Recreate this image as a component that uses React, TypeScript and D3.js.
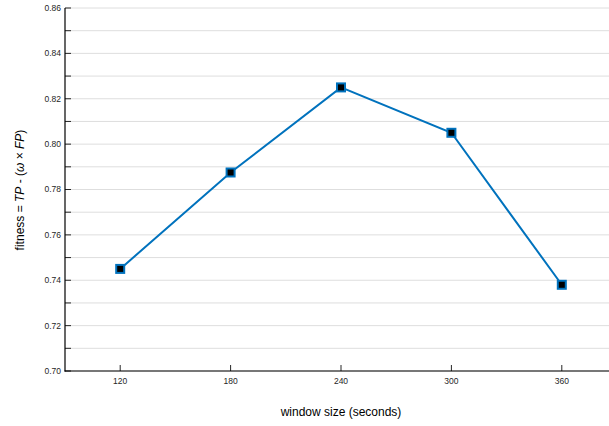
import React from "react";
import * as d3 from "d3";

const windowSizes = [120, 180, 240, 300, 360];
const fitness = [0.745, 0.7875, 0.825, 0.805, 0.738];
const xTicks = [120, 180, 240, 300, 360];
const yTicks = [0.7, 0.72, 0.74, 0.76, 0.78, 0.8, 0.82, 0.84, 0.86];
const yMinor = d3.range(0.7, 0.8601, 0.01);

export default function App() {
  const W = 609, H = 426;
  const x = d3.scaleLinear().domain([90, 390]).range([65, 617]);
  const y = d3.scaleLinear().domain([0.7, 0.86]).range([371, 8]);
  const line = d3.line<number>().x((_, i) => x(windowSizes[i])).y((d) => y(d));
  const font = "Helvetica, Arial, 'Liberation Sans', sans-serif";
  return (
    <svg width={W} height={H} style={{ position: "absolute", left: 0, top: 0, fontFamily: font }}>
      <rect width={W} height={H} fill="#fff" />
      {yMinor.map((v, i) => (
        <line key={"g" + i} x1={65} x2={W} y1={y(v)} y2={y(v)} stroke="#dedede" strokeWidth={1} />
      ))}
      {yMinor.map((v, i) => (
        <line key={"t" + i} x1={65} x2={71} y1={y(v)} y2={y(v)} stroke="#262626" strokeWidth={1} />
      ))}
      {yTicks.map((v) => (
        <text key={"yl" + v} x={61} y={y(v)} dy="0.35em" textAnchor="end" fontSize={8.5} fill="#262626">
          {v.toFixed(2)}
        </text>
      ))}
      {xTicks.map((v) => (
        <g key={"x" + v}>
          <line x1={x(v)} x2={x(v)} y1={371} y2={365} stroke="#262626" strokeWidth={1} />
          <text x={x(v)} y={384} textAnchor="middle" fontSize={8.5} fill="#262626">{v}</text>
        </g>
      ))}
      <line x1={65} x2={65} y1={8} y2={371.5} stroke="#000" strokeWidth={1.2} />
      <line x1={64.5} x2={W} y1={371} y2={371} stroke="#000" strokeWidth={1.2} />
      <path d={line(fitness) || ""} fill="none" stroke="#0072BD" strokeWidth={2} />
      {fitness.map((v, i) => (
        <rect key={"m" + i} x={x(windowSizes[i]) - 4} y={y(v) - 4} width={8} height={8} fill="#000" stroke="#0072BD" strokeWidth={2} />
      ))}
      <text x={341} y={416} textAnchor="middle" fontSize={12} fill="#000">window size (seconds)</text>
      <text transform={`translate(24,${190}) rotate(-90)`} textAnchor="middle" fontSize={12} fill="#000">
        fitness = <tspan fontStyle="italic">TP</tspan> - (<tspan fontStyle="italic">ω</tspan> × <tspan fontStyle="italic">FP</tspan>)
      </text>
    </svg>
  );
}
